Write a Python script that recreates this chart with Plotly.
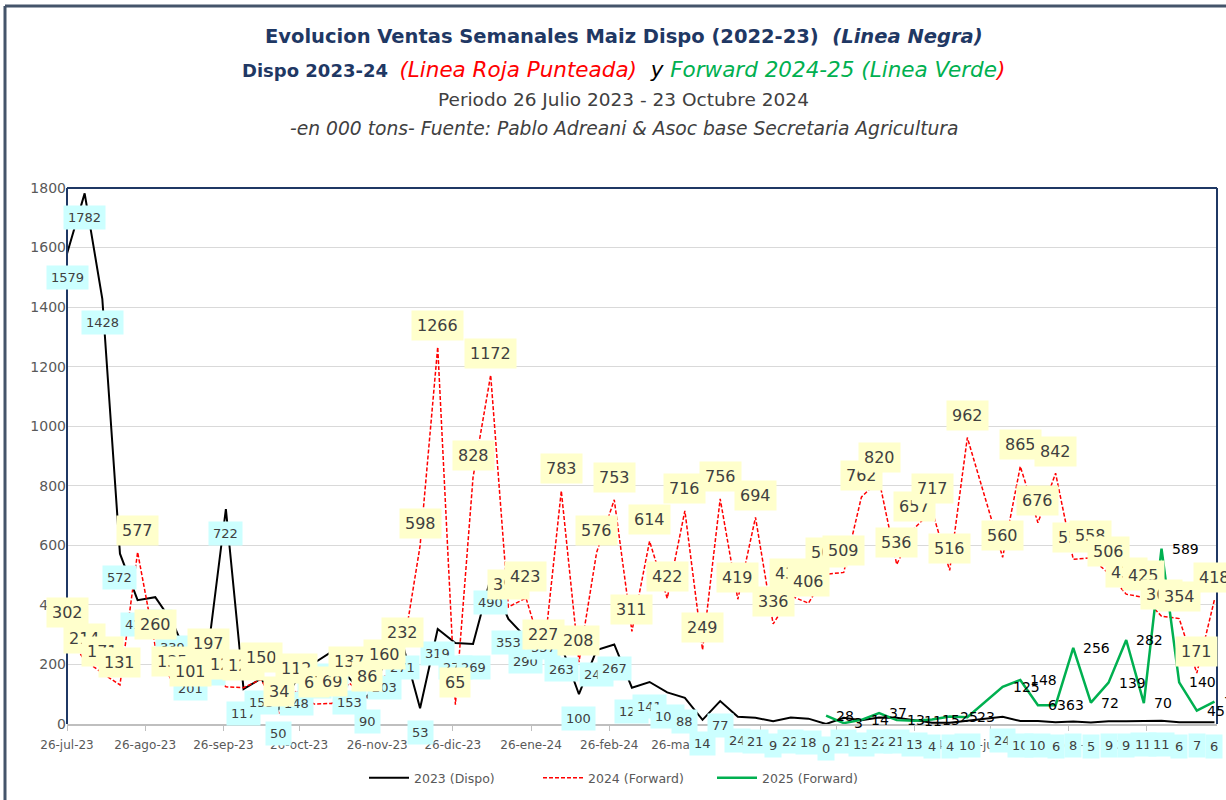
import pandas as pd
import plotly.graph_objects as go

# ---------------- data ----------------
week_start = "2023-07-26"
n_weeks = 66
dates = pd.date_range(week_start, periods=n_weeks, freq="7D").strftime("%Y-%m-%d").tolist()

dispo_2023 = [1579, 1782, 1428, 572, 416, 426, 339, 201, 250, 722, 117, 153, 50, 148, 205, 243,
              153, 90, 203, 271, 53, 319, 272, 269, 490, 353, 290, 337, 263, 100, 248, 267,
              122, 141, 106, 88, 14, 77, 24, 21, 9, 22, 18, 0, 21, 13, 22, 21, 13, 4, 4, 10,
              None, 24, 10, 10, 6, 8, 5, 9, 9, 11, 11, 6, 7, 6]

forward_2024 = [302, 214, 171, 131, 577, 260, 135, 101, 197, 125, 122, 150, 34, 112, 67, 69,
                137, 86, 160, 232, 598, 1266, 65, 828, 1172, 393, 423, 227, 783, 208, 576, 753,
                311, 614, 422, 716, 249, 756, 419, 694, 336, 430, 406, 503, 509, 762, 820, 536,
                657, 717, 516, 962, None, 560, 865, 676, 842, 553, 558, 506, 436, 425, 362, 354,
                171, 418]

forward_2025 = [None] * 43 + [28, 3, 14, 37, 13, 11, 15, 25, 23, None, 125, 148, 63, 63, 256, 72,
                              139, 282, 70, 589, 140, 45, 75]

tick_dates = ["2023-07-26", "2023-08-26", "2023-09-26", "2023-10-26", "2023-11-26", "2023-12-26",
              "2024-01-26", "2024-02-26", "2024-03-26", "2024-04-26", "2024-05-26", "2024-06-26",
              "2024-07-26", "2024-08-26", "2024-09-26"]
tick_text = ["26-jul-23", "26-ago-23", "26-sep-23", "26-oct-23", "26-nov-23", "26-dic-23",
             "26-ene-24", "26-feb-24", "26-mar-24", "26-abr-24", "26-may-24", "26-jun-24",
             "26-jul-24", "26-ago-24", "26-sep-24"]

FONT = "'DejaVu Sans', Verdana, sans-serif"
NAVY = "#1F3864"
GRAY_TXT = "#595959"

# plot-area geometry (pixels)
L, R, T, B = 67, 1217, 188, 724
W, H = 1226, 800

def px(p):
    return (p - L) / float(R - L)

def py(p):
    return (B - p) / float(B - T)

fig = go.Figure()
fig.add_trace(go.Scatter(x=dates, y=dispo_2023, mode="lines", name="2023 (Dispo)",
                         line=dict(color="#000000", width=2), connectgaps=True))
fig.add_trace(go.Scatter(x=dates, y=forward_2024, mode="lines", name="2024 (Forward)",
                         line=dict(color="#FF0000", width=1.5, dash="4px,2px"), connectgaps=True))
fig.add_trace(go.Scatter(x=dates, y=forward_2025, mode="lines", name="2025 (Forward)",
                         line=dict(color="#00B050", width=2.5), connectgaps=True))

ann = []
for d, v in zip(dates, dispo_2023):
    if v is not None:
        ann.append(dict(x=d, y=v, xref="x", yref="y", text=str(v), showarrow=False,
                        bgcolor="#CCFFFF", borderpad=4, yshift=-24,
                        font=dict(family=FONT, size=13, color="#404040")))
for d, v in zip(dates, forward_2024):
    if v is not None:
        ann.append(dict(x=d, y=v, xref="x", yref="y", text=str(v), showarrow=False,
                        bgcolor="#FFFFCC", borderpad=5, yshift=22,
                        font=dict(family=FONT, size=16, color="#404040")))
for d, v in zip(dates, forward_2025):
    if v is not None:
        ann.append(dict(x=d, y=v, xref="x", yref="y", text=str(v), showarrow=False,
                        xanchor="left", xshift=8,
                        font=dict(family=FONT, size=14, color="#000000")))

xc = px(623.5)
IT = "font-size:21.5px"
ann += [
    dict(xref="paper", yref="paper", x=xc, y=py(36), xanchor="center", yanchor="middle", showarrow=False,
         text="<b>Evolucion Ventas Semanales Maiz Dispo (2022-23)  <i>(Linea Negra)</i></b>",
         font=dict(family=FONT, size=19.5, color=NAVY)),
    dict(xref="paper", yref="paper", x=xc, y=py(69), xanchor="center", yanchor="middle", showarrow=False,
         text=("<b>Dispo 2023-24</b>  <i><span style='color:#FF0000;" + IT + "'>(Linea Roja Punteada)</span>"
               "<span style='color:#000000;" + IT + "'>  y </span>"
               "<span style='color:#00B050;" + IT + "'>Forward 2024-25 (Linea Verde</span>"
               "<span style='color:#FF0000;" + IT + "'>)</span></i>"),
         font=dict(family=FONT, size=18, color=NAVY)),
    dict(xref="paper", yref="paper", x=xc, y=py(100), xanchor="center", yanchor="middle", showarrow=False,
         text="Periodo 26 Julio 2023 - 23 Octubre 2024",
         font=dict(family=FONT, size=18.5, color="#404040")),
    dict(xref="paper", yref="paper", x=xc, y=py(128), xanchor="center", yanchor="middle", showarrow=False,
         text="<i>-en 000 tons- Fuente: Pablo Adreani &amp; Asoc base Secretaria Agricultura</i>",
         font=dict(family=FONT, size=18.7, color="#404040")),
]

shapes = [
    dict(type="line", xref="paper", yref="paper", x0=0, x1=0, y0=0, y1=1, line=dict(color=NAVY, width=2)),
    dict(type="line", xref="paper", yref="paper", x0=0, x1=1, y0=1, y1=1, line=dict(color=NAVY, width=2)),
    dict(type="line", xref="paper", yref="paper", x0=1, x1=1, y0=0, y1=1, line=dict(color=NAVY, width=2)),
    dict(type="line", xref="paper", yref="paper", x0=px(5), x1=px(1240), y0=py(6), y1=py(6),
         line=dict(color="#44546A", width=3)),
    dict(type="line", xref="paper", yref="paper", x0=px(5), x1=px(5), y0=py(6), y1=py(820),
         line=dict(color="#44546A", width=3)),
]

fig.update_layout(
    width=W, height=H,
    margin=dict(l=L, r=W - R, t=T, b=H - B, autoexpand=False),
    paper_bgcolor="white", plot_bgcolor="white",
    font=dict(family=FONT, color=GRAY_TXT),
    showlegend=True,
    legend=dict(orientation="h", x=px(364), xanchor="left", y=py(778), yanchor="middle",
                font=dict(family=FONT, size=12.5, color=GRAY_TXT),
                entrywidth=119, entrywidthmode="pixels", itemwidth=40),
    annotations=ann,
    shapes=shapes,
)
fig.update_xaxes(type="date", range=["2023-07-26", "2024-10-24"], tickvals=tick_dates, ticktext=tick_text,
                 showgrid=False, showline=True, linecolor="#BFBFBF", linewidth=1.5,
                 ticks="outside", tickcolor="#BFBFBF", ticklen=5, ticklabelstandoff=4,
                 tickfont=dict(family=FONT, size=12, color=GRAY_TXT), zeroline=False)
fig.update_yaxes(range=[0, 1800], dtick=200, showgrid=True, gridcolor="#D9D9D9", gridwidth=1,
                 zeroline=False, showline=False, ticks="",
                 tickfont=dict(family=FONT, size=14, color=GRAY_TXT))

fig.write_html("out.html", config={"displayModeBar": False},
               post_script="document.body.style.margin='0px';document.body.style.padding='0px';")
